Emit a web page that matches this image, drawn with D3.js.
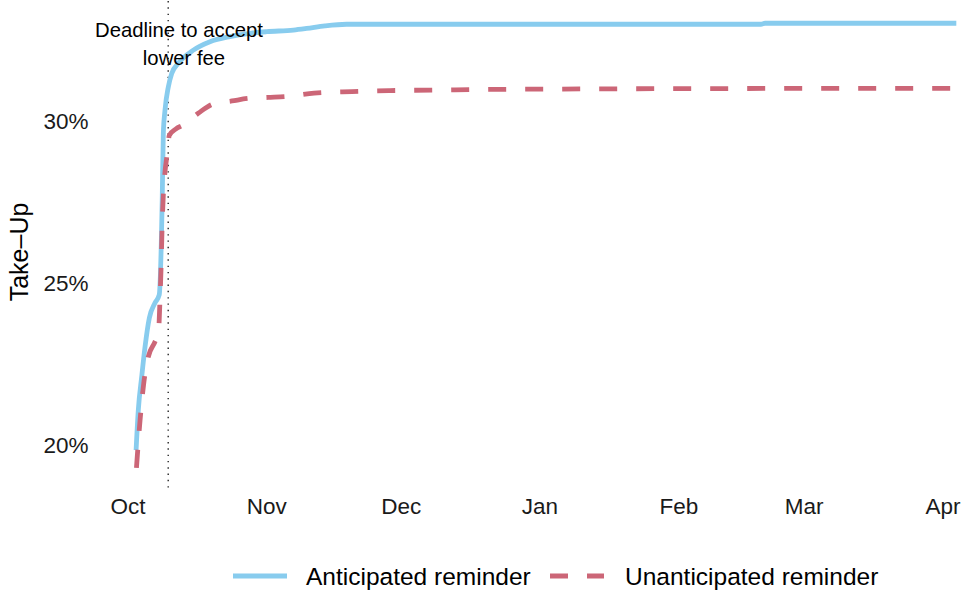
<!DOCTYPE html>
<html>
<head>
<meta charset="utf-8">
<script src="https://cdn.jsdelivr.net/npm/d3@7"></script>
<style>
  html, body { margin: 0; padding: 0; background: #ffffff; }
  svg { display: block; font-family: "Liberation Sans", Arial, Helvetica, sans-serif; }
</style>
</head>
<body>
<svg id="chart" width="964" height="598"></svg>
<script>
// ---------------- data ----------------
const anticipatedDates = ["2016-10-02 22:00", "2016-10-03 10:00", "2016-10-04 04:00", "2016-10-04 22:00", "2016-10-05 21:00", "2016-10-07 03:00", "2016-10-08 02:00", "2016-10-08 18:00", "2016-10-09 00:00", "2016-10-09 09:00", "2016-10-10 03:00", "2016-10-10 21:00", "2016-10-12 08:00", "2016-10-15 17:00", "2016-10-19 10:00", "2016-10-23 21:00", "2016-10-28 08:00", "2016-11-01 02:00", "2016-11-07 01:00", "2016-11-10 00:00", "2016-11-14 02:00", "2016-11-18 22:00", "2017-02-19 11:00", "2017-02-20 09:00", "2017-04-04 02:00"];
const anticipatedValues = [19.86, 21.10, 22.12, 23.05, 23.94, 24.40, 24.65, 27.58, 29.64, 30.36, 31.08, 31.49, 31.80, 32.21, 32.47, 32.63, 32.73, 32.78, 32.83, 32.88, 32.96, 33.01, 33.01, 33.04, 33.04];

const unanticipatedDates = ["2016-10-03 00:00", "2016-10-03 19:00", "2016-10-04 14:00", "2016-10-05 15:00", "2016-10-07 03:00", "2016-10-07 22:00", "2016-10-08 06:00", "2016-10-08 13:00", "2016-10-08 17:00", "2016-10-09 00:00", "2016-10-09 09:00", "2016-10-09 22:00", "2016-10-10 08:00", "2016-10-11 20:00", "2016-10-13 11:00", "2016-10-16 19:00", "2016-10-20 04:00", "2016-10-24 08:00", "2016-10-28 00:00", "2016-11-01 09:00", "2016-11-05 15:00", "2016-11-11 16:00", "2016-11-20 03:00", "2016-11-28 15:00", "2016-12-10 22:00", "2016-12-23 04:00", "2017-03-22 12:00", "2017-04-04 02:00"];
const unanticipatedValues = [19.31, 20.76, 21.87, 22.73, 23.20, 23.50, 24.49, 25.73, 26.66, 27.74, 28.45, 29.06, 29.58, 29.78, 29.90, 30.26, 30.55, 30.64, 30.72, 30.75, 30.78, 30.88, 30.93, 30.96, 30.98, 31.00, 31.03, 31.03];

const seriesNames = ["Anticipated reminder", "Unanticipated reminder"];
const monthTicks = ["2016-10-01 00:00", "2016-11-01 00:00", "2016-12-01 00:00", "2017-01-01 00:00", "2017-02-01 00:00", "2017-03-01 00:00", "2017-04-01 00:00"];
const monthLabels = ["Oct", "Nov", "Dec", "Jan", "Feb", "Mar", "Apr"];
const yTicks = [20, 25, 30];
const deadlineDate = "2016-10-10 02:00";
const annotationLines = ["Deadline to accept", "lower fee"];
const yTitle = "Take\u2013Up";

// ---------------- setup ----------------
const parse = d3.timeParse("%Y-%m-%d %H:%M");
const svg = d3.select("#chart");

const x = d3.scaleTime()
  .domain([parse(monthTicks[0]), parse(monthTicks[monthTicks.length - 1])])
  .range([127.5, 942.5]);
const y = d3.scaleLinear().domain([20, 30]).range([445.5, 121.7]);

const series = [
  { name: seriesNames[0], color: "#88CCEE", dash: null,
    data: anticipatedDates.map((d, i) => ({ date: parse(d), value: anticipatedValues[i] })) },
  { name: seriesNames[1], color: "#CC6677", dash: "18,19",
    data: unanticipatedDates.map((d, i) => ({ date: parse(d), value: unanticipatedValues[i] })) }
];

// panel vertical extent (data range expanded by 5%)
const allVals = anticipatedValues.concat(unanticipatedValues);
const vmin = d3.min(allVals), vmax = d3.max(allVals);
const pad = (vmax - vmin) * 0.05;
const panelTop = y(vmax + pad), panelBottom = y(vmin - pad);

// ---------------- axes ----------------
const monthMap = new Map(monthTicks.map((m, i) => [+parse(m), monthLabels[i]]));
const xAxis = d3.axisBottom(x)
  .tickValues(monthTicks.map(parse))
  .tickFormat(d => monthMap.get(+d))
  .tickSize(0).tickPadding(8);
const gx = svg.append("g").attr("transform", `translate(0,${panelBottom})`).call(xAxis);
gx.select(".domain").remove();
gx.selectAll("text").attr("font-size", 22.5).attr("fill", "#1a1a1a")
  .attr("font-family", "'Liberation Sans', Arial, sans-serif");

const yAxis = d3.axisLeft(y).tickValues(yTicks).tickFormat(d => d + "%").tickSize(0).tickPadding(6.5);
const gy = svg.append("g").attr("transform", "translate(95,0)").call(yAxis);
gy.select(".domain").remove();
gy.selectAll("text").attr("font-size", 22.5).attr("fill", "#1a1a1a")
  .attr("font-family", "'Liberation Sans', Arial, sans-serif");

svg.append("text")
  .attr("transform", `translate(27.5,252) rotate(-90)`)
  .attr("text-anchor", "middle")
  .attr("font-size", 25)
  .attr("fill", "#000")
  .text(yTitle);

// ---------------- deadline line ----------------
svg.append("line")
  .attr("x1", x(parse(deadlineDate))).attr("x2", x(parse(deadlineDate)))
  .attr("y1", panelTop).attr("y2", panelBottom)
  .attr("stroke", "#000").attr("stroke-width", 1.2)
  .attr("stroke-dasharray", "1.4,4.9");

// ---------------- lines ----------------
const line = d3.line().x(d => x(d.date)).y(d => y(d.value)).curve(d3.curveMonotoneX);
series.forEach(s => {
  svg.append("path")
    .datum(s.data)
    .attr("d", line)
    .attr("fill", "none")
    .attr("stroke", s.color)
    .attr("stroke-width", 4.8)
    .attr("stroke-linejoin", "round")
    .attr("stroke-dasharray", s.dash);
});

// ---------------- annotation ----------------
const annX = [179, 184];
const annY = [36.5, 65];
annotationLines.forEach((t, i) => {
  svg.append("text")
    .attr("x", annX[i]).attr("y", annY[i])
    .attr("text-anchor", "middle")
    .attr("font-size", 20.3)
    .attr("fill", "#000")
    .text(t);
});

// ---------------- legend ----------------
const legendKeys = [233, 550];
const legendText = [306, 625];
const legendY = 576;
series.forEach((s, i) => {
  svg.append("line")
    .attr("x1", legendKeys[i]).attr("x2", legendKeys[i] + 54)
    .attr("y1", legendY).attr("y2", legendY)
    .attr("stroke", s.color).attr("stroke-width", 4.8)
    .attr("stroke-dasharray", s.dash);
  svg.append("text")
    .attr("x", legendText[i]).attr("y", legendY + 9)
    .attr("font-size", 24.5)
    .attr("fill", "#000")
    .text(s.name);
});
</script>
</body>
</html>
